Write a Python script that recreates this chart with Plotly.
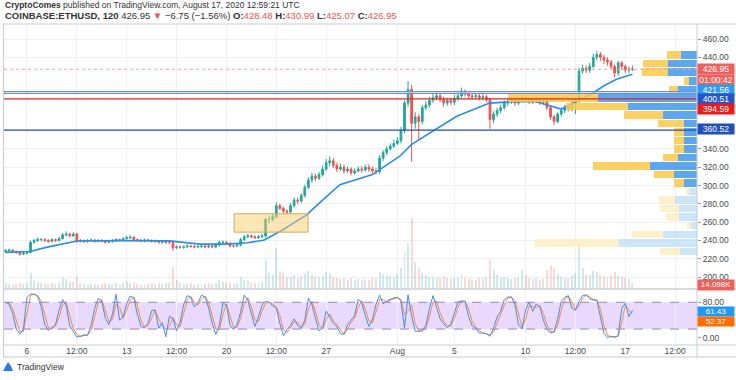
import plotly.graph_objects as go
import pandas as pd

# ---------------- data ----------------
candle_start = "2020-07-04 12:00"
candle_freq = "6h"
first_open = 228.0
closes = [229, 229.5, 228, 227, 225, 226, 227, 238, 240, 241,
          241, 240, 239, 241, 240, 242, 246, 247, 245, 247,
          239, 240, 239, 240, 240.5, 239, 240, 239.5, 238, 239,
          240, 241, 240, 242, 243, 243.5, 241, 240, 239.5, 240.5,
          240, 239, 239.5, 238, 239, 238, 238, 232, 233, 232.5,
          233, 234, 233.5, 233, 233.5, 234, 233, 234, 233, 235,
          238, 238, 237, 234, 234, 235, 241, 244, 245, 244,
          243, 244, 245, 263, 263, 266, 278, 275, 272, 271,
          278, 284, 283, 289, 298, 306, 310, 308, 312, 318,
          325, 327, 322, 318, 320, 316, 318, 314, 316, 318,
          317, 320, 318, 316, 315, 330, 336, 340, 343, 346,
          349, 360, 390, 405, 368, 375, 370, 385, 388, 393,
          396, 398, 394, 390, 393, 391, 395, 398, 403, 400,
          398, 397, 398, 396, 397, 394, 372, 378, 382, 385,
          390, 392, 394, 390, 393, 396, 394, 392, 395, 393,
          391, 392, 385, 375, 370, 378, 382, 385, 384, 390,
          393, 425, 428, 426, 430, 440, 443, 440, 437, 435,
          430, 423, 434, 430, 426, 427, 426.95]
highs = [230.5, 231, 230.5, 229, 228, 227.5, 228.5, 240, 242, 243,
         243, 242.5, 241.5, 242.5, 242, 244, 248, 250, 248.5, 249,
         248, 241.5, 241, 241.5, 242, 241.5, 241.5, 241.5, 240.5, 240.5,
         241.5, 242.5, 242, 243.5, 245, 245.5, 244.5, 242, 241.5, 242,
         242, 241, 241, 240.5, 240.5, 240, 239.5, 239, 234.5, 234.5,
         234.5, 235.5, 235.5, 235, 235, 235.5, 235, 235.5, 235, 236.5,
         240, 240, 239.5, 238, 235.5, 237, 243, 246, 247, 246.5,
         245.5, 246, 247, 265, 267, 269, 282, 280, 277, 274,
         281, 287, 287, 292, 301, 309, 314, 313, 315, 322,
         329, 332, 330, 325, 324, 323, 321, 320, 319, 321,
         321, 323, 323, 321, 319, 333, 339, 343, 346, 350,
         353, 364, 393, 414, 410, 380, 378, 388, 392, 397,
         400, 403, 401, 397, 396, 396, 399, 402, 407, 405,
         402, 401, 401, 400, 400, 399, 396, 381, 385, 388,
         393, 396, 397, 396, 396, 399, 398, 396, 398, 397,
         395, 395, 394, 387, 377, 380, 385, 388, 388, 393,
         396, 429, 432, 431, 434, 444, 447, 446, 443, 440,
         437, 432, 436, 436, 432, 430, 430.99]
lows = [226.5, 227.5, 226.5, 225.5, 223.5, 224, 225, 226, 236.5, 238.5,
        239, 238.5, 237.5, 238, 238.5, 239, 241, 244.5, 243.5, 244,
        237.5, 238, 237.5, 237.5, 238.5, 237.5, 238, 238, 236.5, 237,
        237.5, 238.5, 239, 239, 241, 241.5, 239.5, 238.5, 238, 238,
        238.5, 237.5, 237.5, 236.5, 236.5, 236.5, 236, 229, 230.5, 231,
        231, 231.5, 232, 231.5, 231.5, 232, 231.5, 231.5, 231.5, 231.5,
        233.5, 236, 235.5, 232.5, 232.5, 233, 233.5, 239.5, 242.5, 242.5,
        241.5, 241.5, 243, 243, 259, 261, 264, 273, 269.5, 268.5,
        269.5, 276, 280, 281, 287, 296, 303, 305, 306, 310,
        316, 321, 319, 315, 316, 313, 314, 311, 312, 314,
        314, 315, 315, 313, 312, 313, 327, 333, 338, 341,
        344, 346, 357, 386, 326, 362, 350, 367, 382, 385,
        390, 393, 391, 386, 387, 388, 388, 392, 395, 397,
        395, 394, 394, 393, 393, 391, 362, 368, 375, 379,
        383, 387, 389, 387, 388, 391, 391, 389, 389, 390,
        388, 388, 382, 372, 366, 368, 375, 379, 381, 381,
        378, 390, 422, 423, 423, 428, 437, 436, 433, 431,
        427, 418, 420, 426, 423, 423, 425.07]
volumes_k = [12, 10, 9, 10, 14, 11, 12, 40, 22, 15,
             12, 10, 11, 13, 10, 14, 28, 24, 15, 16,
             30, 14, 10, 9, 11, 10, 9, 10, 12, 11,
             10, 12, 9, 14, 18, 13, 15, 10, 9, 11,
             10, 12, 11, 13, 10, 12, 14, 55, 22, 14,
             11, 10, 12, 9, 10, 11, 10, 12, 11, 14,
             22, 15, 12, 16, 11, 12, 28, 22, 18, 14,
             13, 15, 16, 75, 40, 35, 105, 45, 40, 30,
             30, 35, 26, 32, 38, 45, 34, 28, 30, 32,
             42, 38, 30, 26, 24, 26, 22, 27, 21, 23,
             20, 24, 22, 26, 27, 42, 38, 34, 32, 30,
             36, 52, 95, 120, 185, 70, 52, 40, 34, 30,
             28, 26, 29, 31, 26, 24, 27, 26, 38, 27,
             24, 22, 21, 26, 24, 30, 75, 48, 34, 27,
             30, 26, 24, 27, 26, 48, 34, 26, 24, 26,
             22, 24, 48, 62, 52, 38, 30, 26, 27, 34,
             40, 120, 52, 38, 34, 46, 42, 34, 32, 30,
             34, 42, 32, 28, 26, 24, 14.098]
stoch_k = [80, 76, 55, 20, 9, 20, 91, 99, 98, 93,
           70, 30, 17, 24, 30, 62, 86, 73, 28, 15,
           2, 4, 7, 6, 28, 66, 89, 83, 44, 30,
           53, 98, 40, 48, 77, 94, 90, 53, 26, 23,
           33, 61, 63, 22, 34, 3, 49, 43, 16, 35,
           75, 95, 91, 70, 78, 96, 92, 68, 33, 8,
           28, 77, 75, 29, 19, 30, 58, 96, 85, 55,
           26, 47, 73, 82, 80, 72, 68, 33, 5, 19,
           28, 43, 28, 21, 40, 89, 75, 45, 16, 23,
           60, 47, 33, 26, 10, 8, 30, 40, 50, 87,
           80, 50, 26, 42, 75, 96, 77, 83, 87, 90,
           91, 83, 22, 97, 50, 15, 15, 17, 28, 66,
           95, 70, 43, 32, 23, 31, 56, 81, 83, 82,
           48, 27, 22, 11, 11, 9, 4, 22, 47, 60,
           86, 92, 92, 75, 30, 20, 63, 81, 60, 76,
           70, 40, 19, 11, 14, 42, 82, 91, 95, 67,
           62, 82, 95, 97, 88, 85, 85, 45, 11, 1,
           4, 1, 6, 66, 78, 48, 61.43]
ema_time = ["2020-07-04 11:00", "2020-07-06 05:00", "2020-07-07 12:00", "2020-07-09 12:00",
            "2020-07-12 12:00", "2020-07-16 00:00", "2020-07-18 03:00", "2020-07-20 00:00",
            "2020-07-21 12:00", "2020-07-22 16:00", "2020-07-24 00:00", "2020-07-25 15:00",
            "2020-07-26 13:00", "2020-07-27 23:00", "2020-07-30 06:00", "2020-08-01 04:00",
            "2020-08-02 00:00", "2020-08-03 11:00", "2020-08-05 04:00", "2020-08-07 11:00",
            "2020-08-09 02:00", "2020-08-10 18:00", "2020-08-11 18:00", "2020-08-12 12:00",
            "2020-08-13 18:00", "2020-08-14 15:00", "2020-08-15 12:00", "2020-08-16 09:00",
            "2020-08-17 12:00"]
ema_vals = [227, 228, 233, 239.5, 239.8, 239.6, 236, 236, 237.5, 240.5, 252, 268,
            281, 301, 312, 332, 345, 359, 375.6, 390, 391.5, 391.5, 386.5, 383.5,
            393, 400, 409, 416, 421.56]

# visible-range volume profile (rows bottom -> top)
vp_low, vp_high, vp_rows = 223.5, 447.0, 24
vp_up = [16.7, 77.7, 34, 6, 18.4, 18.4, 21.7, 8.3, 13.3, 22.7, 47.4, 19.4,
         13.4, 13.4, 13.4, 13.4, 34, 69.3, 99, 19.3, 7.7, 29.3, 29.3, 16]
vp_down = [20, 84.7, 31, 4, 12.3, 18.3, 16.7, 2.3, 10, 20, 57, 15,
           9.3, 10, 9.3, 26, 38.7, 62, 90, 9, 5.7, 25.7, 24.7, 14]
vp_value_area_first_row = 8

level_prices = [400.51, 394.59, 360.52]
last_price = 426.95
countdown = "01:00:42"
ema_last = 421.56
last_volume = "14.098K"
stoch_k_last = "61.43"
stoch_d_last = "52.37"
box_dates = ["2020-07-20 13:00", "2020-07-25 17:30"]
box_prices = [249.1, 269.2]

price_ticks = [460, 440, 340, 320, 300, 280, 260, 240, 220, 200]
tick_dates = ["2020-07-06", "2020-07-09 12:00", "2020-07-13", "2020-07-16 12:00", "2020-07-20",
              "2020-07-23 12:00", "2020-07-27", "2020-08-01", "2020-08-05", "2020-08-10",
              "2020-08-13 12:00", "2020-08-17", "2020-08-20 12:00"]
tick_labels = ["6", "12:00", "13", "12:00", "20", "12:00", "27", "Aug", "5", "10", "12:00", "17", "12:00"]

header1 = "<b>CryptoComes</b> published on TradingView.com, August 17, 2020 12:59:21 UTC"
symbol = "COINBASE:ETHUSD, 120"
change_txt = "\u22126.75 (\u22121.56%)"
ohlc_labels = ["O:", "H:", "L:", "C:"]
ohlc_vals = ["428.48", "430.99", "425.07", "426.95"]

# ---------------- derived ----------------
times = pd.date_range(candle_start, periods=len(closes), freq=candle_freq)
opens = [first_open] + closes[:-1]
UP, DN = "#26a69a", "#ef5350"
vol_colors = ["rgba(38,166,154,0.22)" if c >= o else "rgba(239,83,80,0.22)" for o, c in zip(opens, closes)]
stoch_d = pd.Series(stoch_k).rolling(2, min_periods=1).mean()
row_h = (vp_high - vp_low) / vp_rows
vp_centers = [vp_low + row_h * (k + 0.5) for k in range(vp_rows)]
va = [k >= vp_value_area_first_row for k in range(vp_rows)]
vp_up_col = ["rgba(66,150,235,0.85)" if v else "rgba(190,222,248,0.8)" for v in va]
vp_dn_col = ["rgba(252,200,70,0.85)" if v else "rgba(253,236,190,0.8)" for v in va]

W, H = 736, 380
L, R, T, B = 4, 39, 24, 36
PW, PH = W - L - R, H - T - B


def pxp(x):
    return (x - L) / PW


def pyp(y):
    return (H - B - y) / PH


FONT = "Liberation Sans Narrow, Liberation Sans, Arial, sans-serif"
fig = go.Figure()

# volume (base layer)
fig.add_trace(go.Bar(x=times, y=volumes_k, marker=dict(color=vol_colors, line=dict(width=0)),
                     width=6 * 3600 * 1000 * 0.55, xaxis="x", yaxis="y", hoverinfo="skip"))
# candles
fig.add_trace(go.Candlestick(x=times, open=opens, high=highs, low=lows, close=closes,
                             increasing=dict(line=dict(color=UP, width=1), fillcolor=UP),
                             decreasing=dict(line=dict(color=DN, width=1), fillcolor=DN),
                             whiskerwidth=0, xaxis="x", yaxis="y2", hoverinfo="skip"))
# EMA
fig.add_trace(go.Scatter(x=ema_time, y=ema_vals, mode="lines", line=dict(color="#2a8ee6", width=1.6),
                         xaxis="x", yaxis="y2", hoverinfo="skip"))
# volume profile
fig.add_trace(go.Bar(y=vp_centers, x=vp_up, orientation="h", width=row_h * 0.88,
                     marker=dict(color=vp_up_col, line=dict(width=0)), xaxis="x3", yaxis="y2"))
fig.add_trace(go.Bar(y=vp_centers, x=vp_down, base=vp_up, orientation="h", width=row_h * 0.88,
                     marker=dict(color=vp_dn_col, line=dict(width=0)), xaxis="x3", yaxis="y2"))
# stochastic
fig.add_trace(go.Scatter(x=times, y=stoch_d, mode="lines", line=dict(color="#ff8a3d", width=1),
                         xaxis="x2", yaxis="y3", hoverinfo="skip"))
fig.add_trace(go.Scatter(x=times, y=stoch_k, mode="lines", line=dict(color="#3f8fe8", width=1),
                         xaxis="x2", yaxis="y3", hoverinfo="skip"))

xr = ["2020-07-04 09:18", "2020-08-22 00:45"]
main_dom = [pyp(288), 1]
stoch_dom = [0, pyp(290)]
grid = "#eef0f4"
tickfont = dict(family=FONT, size=8.5, color="#4a4a4a")

shapes = []
# stoch band + levels
shapes.append(dict(type="rect", xref="x2", yref="y3", x0=xr[0], x1=xr[1], y0=20, y1=80,
                   fillcolor="rgba(178,120,255,0.28)", line=dict(width=0), layer="below"))
for lv in (20, 80):
    shapes.append(dict(type="line", xref="x2", yref="y3", x0=xr[0], x1=xr[1], y0=lv, y1=lv,
                       line=dict(color="#9a86b8", width=1, dash="dash")))
# horizontal level lines
shapes.append(dict(type="rect", xref="x", yref="y2", x0=xr[0], x1=xr[1], y0=level_prices[0], y1=level_prices[0] + 2.0,
                   fillcolor="rgba(255,255,255,0.55)", line=dict(color="#6a8fd2", width=1.2), layer="above"))
shapes.append(dict(type="line", xref="x", yref="y2", x0=xr[0], x1=xr[1], y0=level_prices[1], y1=level_prices[1],
                   line=dict(color="#e02424", width=1.4), layer="above"))
shapes.append(dict(type="line", xref="x", yref="y2", x0=xr[0], x1=xr[1], y0=level_prices[2], y1=level_prices[2],
                   line=dict(color="#1f4fb8", width=1.4), layer="above"))
shapes.append(dict(type="line", xref="x", yref="y2", x0=xr[0], x1=xr[1], y0=last_price, y1=last_price,
                   line=dict(color="#f0a0a0", width=1, dash="dot"), layer="above"))
# highlight box
shapes.append(dict(type="rect", xref="x", yref="y2", x0=box_dates[0], x1=box_dates[1], y0=box_prices[0],
                   y1=box_prices[1], fillcolor="rgba(250,205,110,0.5)", line=dict(color="#cfae55", width=1),
                   layer="above"))
# frame lines
frame = "#c9ccd3"
for yy in (24, 289, 345, 357):
    shapes.append(dict(type="line", xref="paper", yref="paper", x0=pxp(3), x1=pxp(736), y0=pyp(yy), y1=pyp(yy),
                       line=dict(color=frame, width=1.5 if yy == 289 else 1)))
for xx in (3.5, 697):
    shapes.append(dict(type="line", xref="paper", yref="paper", x0=pxp(xx), x1=pxp(xx), y0=pyp(24), y1=pyp(357),
                       line=dict(color=frame, width=1)))
# TradingView logo mark
shapes.append(dict(type="path", xref="paper", yref="paper",
                   path="M %f %f L %f %f L %f %f L %f %f Z" % (pxp(3), pyp(371), pxp(8), pyp(362), pxp(11), pyp(366), pxp(13), pyp(371)),
                   fillcolor="#2a7be4", line=dict(width=0)))

ann = []
ann.append(dict(xref="paper", yref="paper", x=pxp(3), y=pyp(5.5), xanchor="left", yanchor="middle",
                text=header1, showarrow=False, font=dict(family=FONT, size=8.5, color="#333")))
red = "#ef5350"
ohlc_html = " ".join("<b>%s</b><span style='color:%s'>%s</span>" % (a, red, b) for a, b in zip(ohlc_labels, ohlc_vals))
line2 = "<b>%s</b> %.2f <span style='color:%s'>\u25bc</span> %s %s" % (symbol, last_price, red, change_txt, ohlc_html)
ann.append(dict(xref="paper", yref="paper", x=pxp(3), y=pyp(15.5), xanchor="left", yanchor="middle",
                text=line2, showarrow=False, font=dict(family=FONT, size=9.5, color="#333")))
ann.append(dict(xref="paper", yref="paper", x=pxp(15), y=pyp(367), xanchor="left", yanchor="middle",
                text="TradingView", showarrow=False, font=dict(family=FONT, size=8.5, color="#333")))


def label(text, yref, yval, bg, shift=0, h=8, fs=8.5):
    ann.append(dict(xref="paper", yref=yref, x=1, y=yval, xanchor="left", yanchor="middle", xshift=0, yshift=shift,
                    text=text, showarrow=False, bgcolor=bg, width=34, height=h, borderpad=1, align="center",
                    font=dict(family=FONT, size=fs, color="white")))


label("%.2f" % last_price, "y2", last_price, "#ef5f5c")
label(countdown, "y2", last_price, "#ef5f5c", -10.6)
label("%.2f" % ema_last, "y2", ema_last, "#2f9bf0", -15.7)
label("%.2f" % level_prices[0], "y2", level_prices[0], "#2357c9", -5.7)
label("%.2f" % level_prices[1], "y2", level_prices[1], "#f01818", -10.3)
label("%.2f" % level_prices[2], "y2", level_prices[2], "#1f4fb8", 1.5)
label(last_volume, "y", volumes_k[-1], "#ef5f5c", -2.8, 7.5, 8)
label(stoch_k_last, "y3", float(stoch_k_last), "#2196f3", -1.2, 7, 8)
label(stoch_d_last, "y3", float(stoch_d_last), "#ff6d00", -6.7, 7, 8)

fig.update_layout(
    width=W, height=H, margin=dict(l=L, r=R, t=T, b=B), paper_bgcolor="white", plot_bgcolor="white",
    showlegend=False, barmode="overlay", bargap=0,
    xaxis=dict(range=xr, domain=[0, 1], anchor="y", showticklabels=False, tickvals=tick_dates,
               showgrid=True, gridcolor=grid, zeroline=False, rangeslider=dict(visible=False), showline=False),
    xaxis2=dict(range=xr, domain=[0, 1], anchor="y3", matches="x", tickvals=tick_dates, ticktext=tick_labels,
                showgrid=True, gridcolor=grid, zeroline=False, ticks="", tickfont=tickfont, showline=False),
    xaxis3=dict(range=[PW, 0], overlaying="x", anchor="y2", visible=False),
    yaxis=dict(domain=main_dom, range=[0, 700], visible=False, fixedrange=True),
    yaxis2=dict(domain=main_dom, range=[188.1, 476.4], overlaying="y", side="right", anchor="x",
                tickvals=price_ticks, ticktext=["%.2f" % v for v in price_ticks], showgrid=True,
                gridcolor=grid, zeroline=False, ticks="outside", ticklen=3, tickcolor="#999",
                tickfont=tickfont, showline=False),
    yaxis3=dict(domain=stoch_dom, range=[-13.5, 107.6], side="right", anchor="x2", tickvals=[0, 80],
                ticktext=["0.00", "80.00"], showgrid=False, zeroline=False, ticks="outside", ticklen=3,
                tickcolor="#999", tickfont=tickfont, showline=False),
    shapes=shapes, annotations=ann,
)
fig.write_html("out.html", config={"displayModeBar": False},
               post_script="document.body.style.margin='0';document.body.style.overflow='hidden';")
